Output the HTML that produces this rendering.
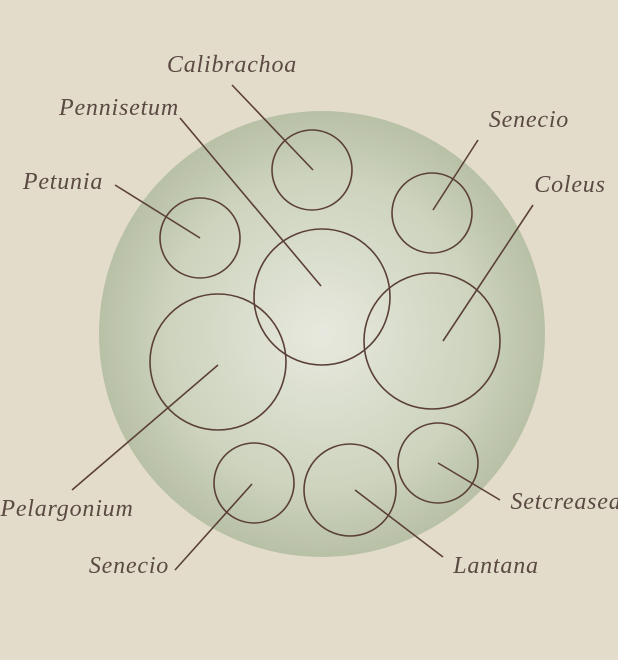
<!DOCTYPE html>
<html><head><style>
html,body{margin:0;padding:0;background:#e3dccb;}
svg{display:block}
text{font-family:"Liberation Serif",serif;font-style:italic;font-size:24px;letter-spacing:0.8px;fill:#5a4a42;text-anchor:middle}
</style></head><body>
<svg width="618" height="660" viewBox="0 0 618 660">
<defs>
<radialGradient id="g" cx="50%" cy="50%" r="50%">
<stop offset="0" stop-color="#e7e9de"/>
<stop offset="0.7" stop-color="#cdd3bd"/>
<stop offset="1" stop-color="#b8c0a6"/>
</radialGradient>
</defs>
<rect width="618" height="660" fill="#e3dccb"/>
<circle cx="322" cy="334" r="223" fill="url(#g)"/>
<g fill="none" stroke="#5b4038" stroke-width="1.6">
<circle cx="312" cy="170" r="40"/>
<circle cx="432" cy="213" r="40"/>
<circle cx="200" cy="238" r="40"/>
<circle cx="322" cy="297" r="68"/>
<circle cx="432" cy="341" r="68"/>
<circle cx="218" cy="362" r="68"/>
<circle cx="254" cy="483" r="40"/>
<circle cx="350" cy="490" r="46"/>
<circle cx="438" cy="463" r="40"/>
<line x1="232" y1="85" x2="313" y2="170"/>
<line x1="180" y1="118" x2="321" y2="286"/>
<line x1="115" y1="185" x2="200" y2="238"/>
<line x1="478" y1="140" x2="433" y2="210"/>
<line x1="533" y1="205" x2="443" y2="341"/>
<line x1="72" y1="490" x2="218" y2="365"/>
<line x1="175" y1="570" x2="252" y2="484"/>
<line x1="443" y1="557" x2="355" y2="490"/>
<line x1="500" y1="500" x2="438" y2="463"/>
</g>
<text x="232" y="72">Calibrachoa</text>
<text x="119" y="115">Pennisetum</text>
<text x="63" y="189">Petunia</text>
<text x="529" y="127">Senecio</text>
<text x="570" y="192">Coleus</text>
<text x="67" y="516">Pelargonium</text>
<text x="129" y="573">Senecio</text>
<text x="496" y="573">Lantana</text>
<text x="566" y="509">Setcreasea</text>
</svg>
</body></html>
